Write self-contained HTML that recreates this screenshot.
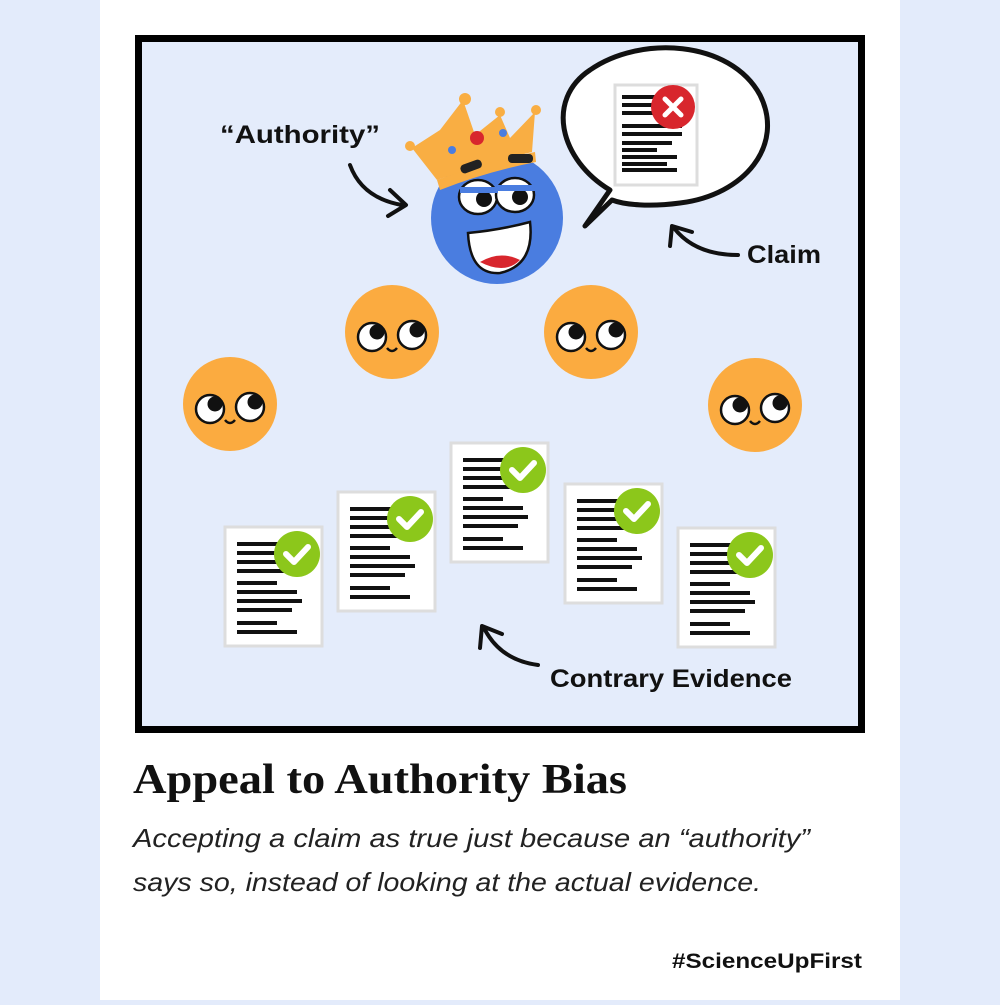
<!DOCTYPE html>
<html><head><meta charset="utf-8"><style>
body{margin:0;width:1000px;height:1000px;background:#e3ebfb;font-family:"Liberation Sans",sans-serif;overflow:hidden}
</style></head><body>
<svg width="1000" height="1000" viewBox="0 0 1000 1000" xmlns="http://www.w3.org/2000/svg">
<defs>
<g id="of">
<circle r="47" fill="#fbab40"/>
<circle cx="-20" cy="5" r="14" fill="#fff" stroke="#111" stroke-width="2.5"/>
<circle cx="-15" cy="0" r="7.5" fill="#111"/>
<circle cx="20" cy="3" r="14" fill="#fff" stroke="#111" stroke-width="2.5"/>
<circle cx="25" cy="-2" r="7.5" fill="#111"/>
<path d="M-5 16 q5 6 10 0" fill="none" stroke="#111" stroke-width="2.5"/>
</g>
<g id="doc">
<rect x="0" y="0" width="97" height="119" fill="#fff" stroke="#ddd" stroke-width="3"/>
<g stroke="#111" stroke-width="4">
<path d="M12 17h45M12 26h50M12 35h50M12 44h55M12 56h40M12 65h60M12 74h65M12 83h55M12 96h40M12 105h60"/>
</g>
<circle cx="72" cy="27" r="23" fill="#8cc71b"/>
<path d="M61 27l8 8 14-15" fill="none" stroke="#fff" stroke-width="6" stroke-linecap="round" stroke-linejoin="round"/>
</g>
</defs>
<rect x="100" y="0" width="800" height="1000" fill="#fff"/>
<rect x="138.5" y="38.5" width="723" height="691" fill="#e4ecfb" stroke="#000" stroke-width="7"/>
<!-- bubble -->
<path d="M610 190 C560 160 545 100 590 70 C640 35 730 40 760 95 C785 145 745 195 680 203 C650 207 625 205 612 200 L585 226 Z" fill="#fff" stroke="#111" stroke-width="5" stroke-linejoin="round"/>
<rect x="615" y="85" width="82" height="100" fill="#fff" stroke="#ddd" stroke-width="3"/>
<g stroke="#111" stroke-width="4"><path d="M622 97h40M622 105h40M622 113h40M622 126h60M622 134h60M622 143h50M622 150h35M622 157h55M622 164h45M622 170h55"/></g>
<circle cx="673" cy="107" r="22" fill="#d8262d"/>
<path d="M665 99l16 16M681 99l-16 16" stroke="#fff" stroke-width="5" stroke-linecap="round"/>
<!-- blue face -->
<circle cx="497" cy="218" r="66" fill="#4a7de0"/>
<path d="M412 148 L440 130 L463 100 L475 135 L500 115 L510 138 L535 112 L532 152 Q480 165 437 180 Z" fill="#f9ae43"/>
<path d="M437 180 Q485 162 535 152 L536 162 Q485 172 440 190Z" fill="#f9ae43"/>
<circle cx="465" cy="99" r="6" fill="#f9ae43"/><circle cx="500" cy="112" r="5" fill="#f9ae43"/><circle cx="536" cy="110" r="5" fill="#f9ae43"/><circle cx="410" cy="146" r="5" fill="#f9ae43"/>
<circle cx="477" cy="138" r="7" fill="#d8262d"/><circle cx="452" cy="150" r="4" fill="#4a7de0"/><circle cx="503" cy="133" r="4" fill="#4a7de0"/>
<rect x="460" y="162" width="22" height="9" rx="4" fill="#222" transform="rotate(-20 471 166)"/>
<rect x="508" y="154" width="25" height="9" rx="4" fill="#222"/>
<ellipse cx="478" cy="197" rx="19" ry="17" fill="#fff" stroke="#111" stroke-width="2.5"/>
<ellipse cx="515" cy="195" rx="19" ry="17" fill="#fff" stroke="#111" stroke-width="2.5"/>
<circle cx="484" cy="199" r="8" fill="#111"/><circle cx="520" cy="197" r="8" fill="#111"/>
<path d="M460 190h38M497 188h38" stroke="#4a7de0" stroke-width="6"/>
<path d="M468 233 Q500 230 530 222 Q535 265 500 273 Q470 275 468 233Z" fill="#fff" stroke="#111" stroke-width="2.5"/>
<path d="M480 262 Q500 250 520 260 Q505 275 480 262Z" fill="#d8262d"/>
<!-- orange faces -->
<use href="#of" x="230" y="404"/>
<use href="#of" x="392" y="332"/>
<use href="#of" x="591" y="332"/>
<use href="#of" x="755" y="405"/>
<!-- docs -->
<use href="#doc" x="225" y="527"/>
<use href="#doc" x="338" y="492"/>
<use href="#doc" x="451" y="443"/>
<use href="#doc" x="565" y="484"/>
<use href="#doc" x="678" y="528"/>
<!-- arrows -->
<g fill="none" stroke="#111" stroke-width="4" stroke-linecap="round" stroke-linejoin="round">
<path d="M350 165 Q362 198 402 205"/><path d="M390 190 L406 205 L388 216"/>
<path d="M738 255 Q695 255 674 228"/><path d="M670 246 L672 226 L692 232"/>
<path d="M538 665 Q500 660 484 628"/><path d="M480 648 L482 626 L502 634"/>
</g>
<g font-family="Liberation Sans,sans-serif" font-weight="bold" font-size="25" fill="#111">
<text x="220" y="143" textLength="160" lengthAdjust="spacingAndGlyphs">“Authority”</text>
<text x="747" y="263" textLength="74" lengthAdjust="spacingAndGlyphs">Claim</text>
<text x="550" y="687" textLength="242" lengthAdjust="spacingAndGlyphs">Contrary Evidence</text>
</g>
<text x="133" y="793" font-family="Liberation Serif,serif" font-weight="bold" font-size="42" fill="#111" textLength="494" lengthAdjust="spacingAndGlyphs">Appeal to Authority Bias</text>
<g font-family="Liberation Sans,sans-serif" font-style="italic" font-size="26" fill="#222">
<text x="133" y="847" textLength="677" lengthAdjust="spacingAndGlyphs">Accepting a claim as true just because an “authority”</text>
<text x="133" y="891" textLength="628" lengthAdjust="spacingAndGlyphs">says so, instead of looking at the actual evidence.</text>
</g>
<text x="862" y="968" text-anchor="end" font-family="Liberation Sans,sans-serif" font-weight="bold" font-size="21" fill="#111" textLength="190" lengthAdjust="spacingAndGlyphs">#ScienceUpFirst</text>
</svg>
</body></html>
